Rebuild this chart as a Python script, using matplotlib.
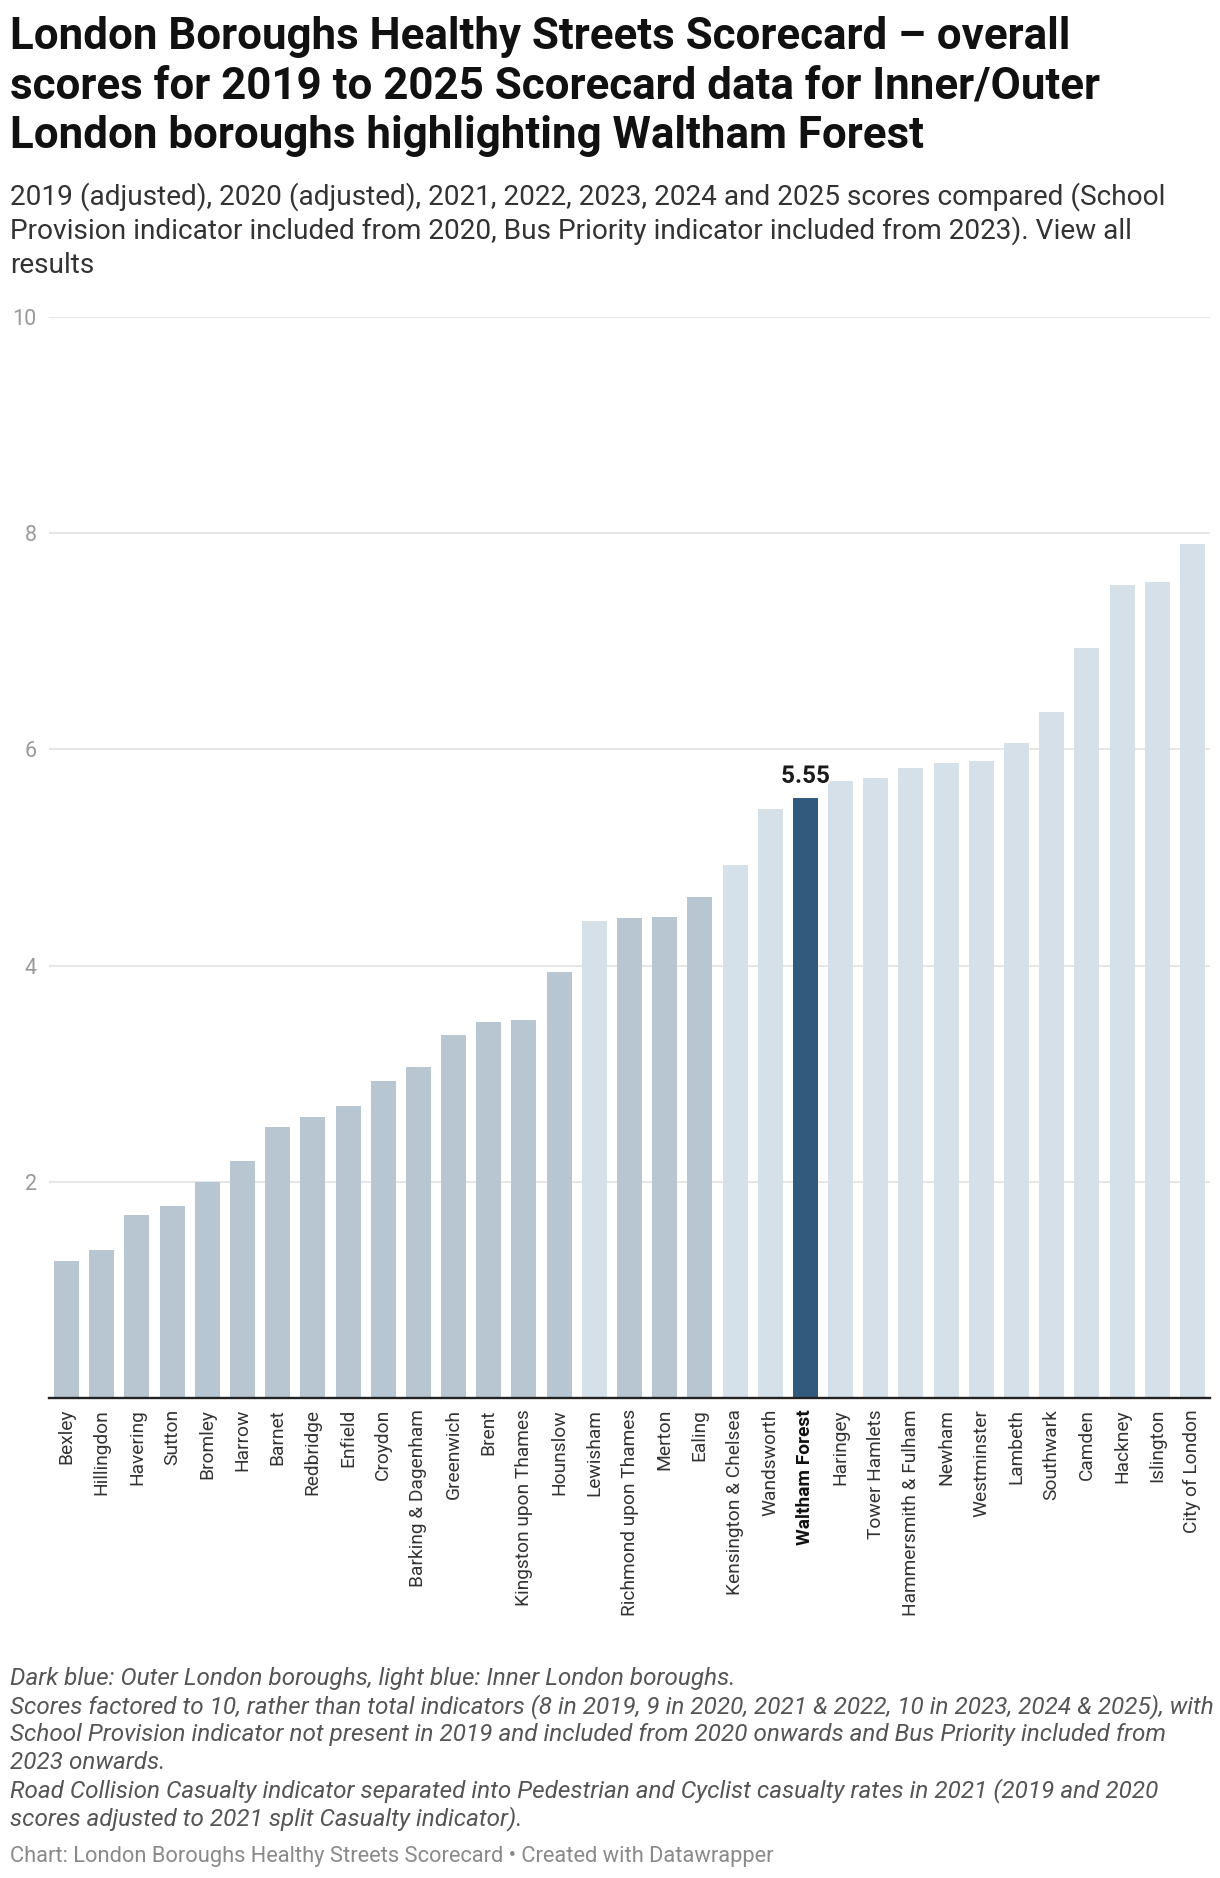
import matplotlib
matplotlib.use("Agg")
import matplotlib.pyplot as plt
import matplotlib.patheffects as pe

plt.rcParams['font.family'] = ['Roboto', 'DejaVu Sans']

boroughs = ["Bexley", "Hillingdon", "Havering", "Sutton", "Bromley", "Harrow", "Barnet",
            "Redbridge", "Enfield", "Croydon", "Barking & Dagenham", "Greenwich", "Brent",
            "Kingston upon Thames", "Hounslow", "Lewisham", "Richmond upon Thames", "Merton",
            "Ealing", "Kensington & Chelsea", "Wandsworth", "Waltham Forest", "Haringey",
            "Tower Hamlets", "Hammersmith & Fulham", "Newham", "Westminster", "Lambeth",
            "Southwark", "Camden", "Hackney", "Islington", "City of London"]
scores = [1.27, 1.37, 1.69, 1.78, 2.00, 2.19, 2.51, 2.60, 2.70, 2.93, 3.06, 3.36, 3.48,
          3.50, 3.94, 4.41, 4.44, 4.45, 4.63, 4.93, 5.45, 5.55, 5.71, 5.74, 5.83, 5.87,
          5.89, 6.06, 6.35, 6.94, 7.52, 7.55, 7.90]
groups = ["Outer"] * 15 + ["Inner"] + ["Outer"] * 3 + ["Inner", "Inner", "Highlight"] + ["Inner"] * 11
highlight = "Waltham Forest"
y_ticks = [0, 2, 4, 6, 8, 10]
y_tick_labels = ["", "2", "4", "6", "8", "10"]

colour_map = {"Outer": "#b8c6d1", "Inner": "#d5e0e9", "Highlight": "#325a7d"}

W, H = 1220, 1878
fig = plt.figure(figsize=(W / 100, H / 100), dpi=100)
ax = fig.add_axes([49 / W, 1 - 1398 / H, (1210 - 49) / W, (1398 - 317) / H])

x = list(range(len(boroughs)))
colours = [colour_map[g] for g in groups]
ax.bar(x, scores, width=0.71, color=colours, zorder=2)

ax.set_xlim(-0.5, len(boroughs) - 0.5)
ax.set_ylim(0, 10)
ax.set_yticks(y_ticks)
ax.set_yticklabels(y_tick_labels)
ax.yaxis.grid(True, color="#e4e4e4", linewidth=1.3, zorder=0)
ax.set_axisbelow(True)
for s in ["left", "right", "top"]:
    ax.spines[s].set_visible(False)
ax.spines["bottom"].set_color("#222222")
ax.spines["bottom"].set_linewidth(1.7)
ax.spines["bottom"].set_zorder(3)
ax.tick_params(axis="y", length=0, pad=9, labelsize=15.5, labelcolor="#9a9a9a")
ax.tick_params(axis="x", length=0, pad=8, labelsize=13.8, labelcolor="#333333")
ax.set_xticks(x)
ax.set_xticklabels(boroughs, rotation=90, ha="center", va="top")
for lbl in ax.get_xticklabels():
    if lbl.get_text() == highlight:
        lbl.set_fontweight("bold")
        lbl.set_color("#111111")

hi = boroughs.index(highlight)
ax.annotate(f"{scores[hi]:.2f}", xy=(hi, scores[hi]), xytext=(0, 11),
            textcoords="offset points", ha="center", va="baseline",
            fontsize=17.5, fontweight="bold", color="#1a1a1a", zorder=5,
            path_effects=[pe.withStroke(linewidth=3, foreground="white")])

def fy(py):
    return 1 - py / H

title_lines = ["London Boroughs Healthy Streets Scorecard \u2013 overall",
               "scores for 2019 to 2025 Scorecard data for Inner/Outer",
               "London boroughs highlighting Waltham Forest"]
for i, t in enumerate(title_lines):
    fig.text(10 / W, fy(49 + i * 49.5), t, fontsize=31.6, fontweight="bold",
             color="#111111", va="baseline", ha="left")

sub_lines = ["2019 (adjusted), 2020 (adjusted), 2021, 2022, 2023, 2024 and 2025 scores compared (School",
             "Provision indicator included from 2020, Bus Priority indicator included from 2023). View all",
             "results"]
for i, t in enumerate(sub_lines):
    fig.text(10 / W, fy(205 + i * 34), t, fontsize=20.2, color="#333333",
             va="baseline", ha="left")

note_lines = ["Dark blue: Outer London boroughs, light blue: Inner London boroughs.",
              "Scores factored to 10, rather than total indicators (8 in 2019, 9 in 2020, 2021 & 2022, 10 in 2023, 2024 & 2025), with",
              "School Provision indicator not present in 2019 and included from 2020 onwards and Bus Priority included from",
              "2023 onwards.",
              "Road Collision Casualty indicator separated into Pedestrian and Cyclist casualty rates in 2021 (2019 and 2020",
              "scores adjusted to 2021 split Casualty indicator)."]
for i, t in enumerate(note_lines):
    fig.text(10 / W, fy(1685 + i * 28), t, fontsize=17.45, color="#555555",
             style="italic", va="baseline", ha="left")

fig.text(10 / W, fy(1862), "Chart: London Boroughs Healthy Streets Scorecard \u2022 Created with Datawrapper",
         fontsize=15.75, color="#8a8a8a", va="baseline", ha="left")

fig.savefig("out.png", dpi=100, facecolor="white")
